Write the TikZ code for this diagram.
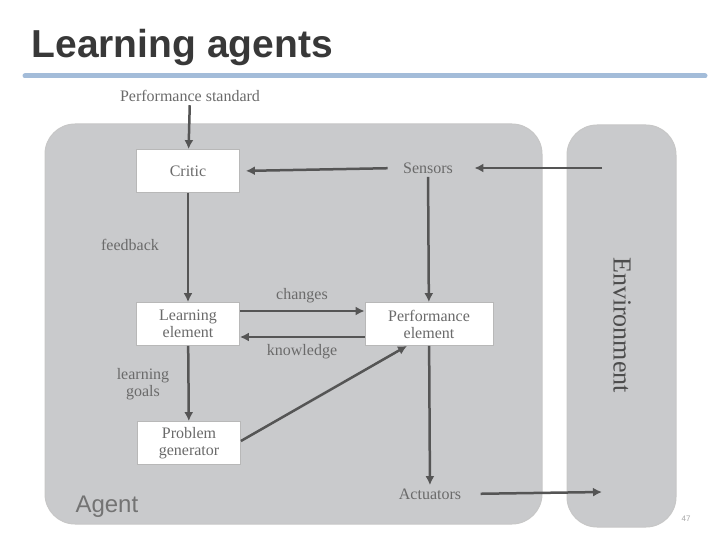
\documentclass[tikz,border=0pt]{standalone}
\usepackage{fontspec}
\setmainfont{Liberation Serif}
\newfontfamily\slidefont{Liberation Sans}
\usetikzlibrary{arrows.meta}
\definecolor{agentgray}{HTML}{C9CACC}
\definecolor{linegray}{HTML}{555555}
\definecolor{textgray}{HTML}{6A6A6A}
\definecolor{ruleblue}{HTML}{A3BCD9}
\tikzset{
	box/.style={draw=black!28, line width=0.8pt, fill=white, minimum width=103pt, minimum height=43pt, align=center, font=\fontsize{16}{17}\selectfont, text=textgray},
	lbl/.style={font=\fontsize{16}{17}\selectfont, text=textgray, align=center},
	conn/.style={draw=linegray, line width=2.5pt, -{Latex[length=9pt,width=9pt]}},
	region/.style={fill=agentgray, draw=black!22, line width=1pt, rounded corners=30pt}
}

\begin{document}
\begin{tikzpicture}[x=1pt,y=-1pt]
			%%%%% START %%%%%
			\useasboundingbox (0,0) rectangle (720,540);
			
			\node[anchor=base west, font=\slidefont\bfseries\fontsize{39}{44}\selectfont, text=black!78] (title) at (28,58) {Learning agents};
			\draw[ruleblue, line width=5pt, line cap=round] (25,76) -- (705,76);
			
			\draw[region] (45,124) rectangle (542,524);
			\draw[region] (567,125) rectangle (676,527);
			
			\coordinate (envin) at (602,168);
			\coordinate (envout) at (602,492);
			
			\node[lbl] (std) at (190,96) {Performance standard};
			\node[box] (critic) at (188,171) {Critic};
			\node[lbl] (sensors) at (428,168) {Sensors};
			\node[box] (learn) at (188,324) {Learning\\element};
			\node[box, minimum width=128pt] (perf) at (429,324) {Performance\\element};
			\node[box] (probgen) at (189,443) {Problem\\generator};
			\node[lbl] (act) at (430,494) {Actuators};
			
			\node[lbl] (fb) at (130,245) {feedback};
			\node[lbl] (goals) at (143,384) {learning\\goals};
			\node[lbl] (chg) at (302,296) {changes};
			\node[lbl] (know) at (302,352) {knowledge};
			
			\node[font=\fontsize{26}{28}\selectfont, text=black!70, rotate=-90] (env) at (622,325) {Environment};
			\node[anchor=base west, font=\slidefont\fontsize{24}{26}\selectfont, text=black!55] (agent) at (72,512) {Agent};
			\node[font=\slidefont\fontsize{8}{9}\selectfont, text=black!35] (pg) at (686,519) {47};
			
			\draw[conn] (std) -- (critic);
			\draw[conn, shorten >=18pt] (envin) -- (sensors.east);
			\draw[conn, shorten <=12pt, shorten >=6pt] (sensors.west) -- (critic.east);
			\draw[conn] (critic) -- (learn);
			\draw[conn] (sensors) -- (perf);
			% changes above, knowledge below
			\draw[conn] ([yshift=13pt]learn.east) -- ([yshift=13pt]perf.west);
			\draw[conn] ([yshift=-13pt]perf.west) -- ([yshift=-13pt]learn.east);
			\draw[conn] (learn) -- (probgen);
			\draw[conn] ([yshift=2pt]probgen.east) -- ([xshift=-22pt]perf.south);
			\draw[conn] (perf) -- (act);
			\draw[conn, shorten <=16pt] (act.east) -- (envout);
			
			%%%%% END %%%%%
\end{tikzpicture}
\end{document}
